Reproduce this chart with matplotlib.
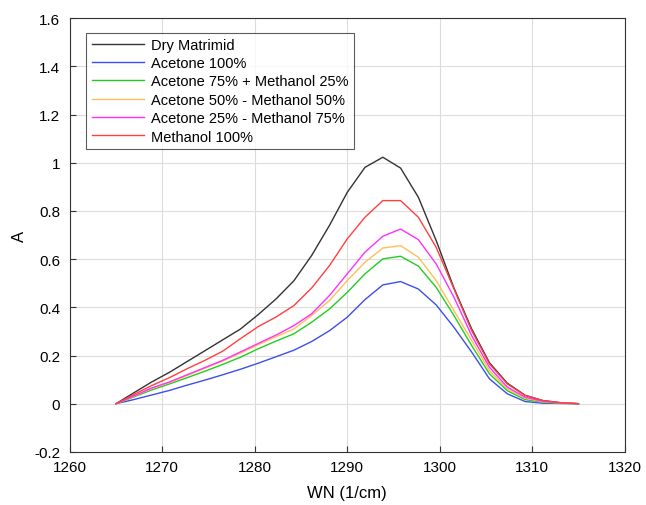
import matplotlib
matplotlib.use('Agg')
import matplotlib.pyplot as plt
from matplotlib.ticker import FuncFormatter

plt.rcParams['font.family'] = ['Liberation Sans', 'DejaVu Sans']

# wavenumber grid (1/cm)
wn = [1265.00, 1266.92, 1268.85, 1270.77, 1272.69, 1274.62, 1276.54, 1278.46,
      1280.38, 1282.31, 1284.23, 1286.15, 1288.08, 1290.00, 1291.92, 1293.85,
      1295.77, 1297.69, 1299.62, 1301.54, 1303.46, 1305.38, 1307.31, 1309.23,
      1311.15, 1313.08, 1315.00]

dry = [0, 0.045, 0.09, 0.13, 0.175, 0.22, 0.265, 0.31, 0.37, 0.435, 0.51, 0.615,
       0.74, 0.877, 0.981, 1.023, 0.978, 0.857, 0.677, 0.48, 0.31, 0.17, 0.085,
       0.035, 0.013, 0.004, 0]
ace100 = [0, 0.017, 0.036, 0.055, 0.077, 0.098, 0.12, 0.143, 0.168, 0.195, 0.222,
          0.258, 0.303, 0.359, 0.432, 0.493, 0.507, 0.476, 0.41, 0.317, 0.214,
          0.103, 0.041, 0.009, 0.002, 0.001, 0]
ace75 = [0, 0.028, 0.057, 0.082, 0.108, 0.135, 0.163, 0.193, 0.228, 0.26, 0.29,
         0.338, 0.393, 0.462, 0.539, 0.601, 0.612, 0.571, 0.483, 0.366, 0.241,
         0.124, 0.054, 0.017, 0.006, 0.002, 0]
ace50 = [0, 0.031, 0.063, 0.088, 0.117, 0.147, 0.177, 0.21, 0.245, 0.278, 0.31,
         0.366, 0.428, 0.511, 0.587, 0.646, 0.656, 0.608, 0.511, 0.386, 0.262,
         0.137, 0.062, 0.023, 0.008, 0.003, 0]
ace25 = [0, 0.032, 0.065, 0.09, 0.12, 0.15, 0.18, 0.215, 0.25, 0.285, 0.324,
         0.373, 0.449, 0.539, 0.629, 0.695, 0.725, 0.681, 0.58, 0.442, 0.282,
         0.151, 0.069, 0.027, 0.01, 0.003, 0]
meth100 = [0, 0.038, 0.075, 0.108, 0.145, 0.18, 0.218, 0.27, 0.32, 0.36, 0.407,
           0.48, 0.573, 0.684, 0.774, 0.843, 0.843, 0.774, 0.649, 0.476, 0.303,
           0.165, 0.082, 0.034, 0.013, 0.004, 0]

labels = ['Dry Matrimid', 'Acetone 100%', 'Acetone 75% + Methanol 25%',
          'Acetone 50% - Methanol 50%', 'Acetone 25% - Methanol 75%',
          'Methanol 100%']
series = [dry, ace100, ace75, ace50, ace25, meth100]
colors = ['#333333', '#3d4fe6', '#22cc22', '#ffbf55', '#ff30ff', '#ff4040']

fig = plt.figure(figsize=(6.46, 5.06), dpi=100)
ax = fig.add_axes([0.108, 0.105, 0.859, 0.857])

for y, c, lab in zip(series, colors, labels):
    ax.plot(wn, y, color=c, lw=1.0, label=lab)

ax.set_xlim(1260, 1320)
ax.set_ylim(-0.2, 1.6)
ax.set_xticks(range(1260, 1321, 10))
ax.set_yticks([-0.2 + 0.2 * k for k in range(10)])
ax.yaxis.set_major_formatter(FuncFormatter(lambda v, p: '%g' % round(v, 2)))
ax.tick_params(direction='in', labelsize=11, length=4, color='#333333',
               top=False, right=False)
ax.tick_params(axis='x', pad=6)
ax.tick_params(axis='y', pad=7)
ax.grid(True, color='#dcdcdc', lw=0.8)
ax.set_axisbelow(True)
for s in ax.spines.values():
    s.set_color('#333333')
    s.set_linewidth(0.8)

ax.set_xlabel('WN (1/cm)', fontsize=12, labelpad=8)
ax.set_ylabel('A', fontsize=12, labelpad=5)

leg = ax.legend(loc='upper left', bbox_to_anchor=(0.03, 0.967), fontsize=10.5,
                frameon=True, fancybox=False, handlelength=3.6,
                labelspacing=0.3, borderpad=0.35, handletextpad=0.5,
                borderaxespad=0.0)
leg.get_frame().set_edgecolor('#333333')
leg.get_frame().set_linewidth(0.8)

fig.savefig('out.png', dpi=100)
